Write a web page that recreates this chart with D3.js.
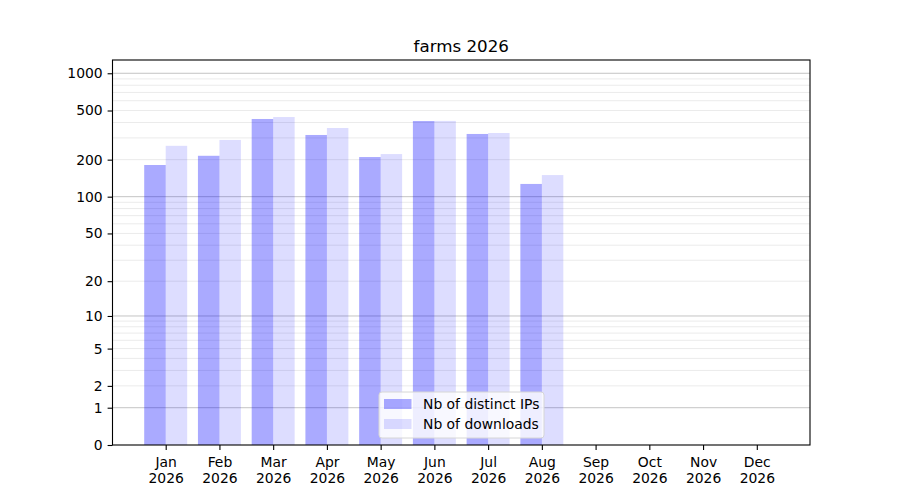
<!DOCTYPE html>
<html>
<head>
<meta charset="utf-8">
<script src="https://cdn.jsdelivr.net/npm/d3@7"></script>
<style>
    body { margin: 0; background: #fff; }
    text { font-family: "DejaVu Sans", sans-serif; fill: #000; }
</style>
</head>
<body>
<div id="chart"></div>
<script>
// data
const months = ["Jan", "Feb", "Mar", "Apr", "May", "Jun", "Jul", "Aug", "Sep", "Oct", "Nov", "Dec"];
const year = "2026";
const distinctIPs = [181, 215, 427, 317, 210, 411, 323, 127, 0, 0, 0, 0];
const downloads = [259, 289, 443, 361, 222, 412, 329, 150, 0, 0, 0, 0];
const yTickValues = [0, 1, 2, 5, 10, 20, 50, 100, 200, 500, 1000];
const majorGrid = [1, 10, 100, 1000];
const minorGrid = [2, 3, 4, 5, 6, 7, 8, 9, 20, 30, 40, 50, 60, 70, 80, 90,
    200, 300, 400, 500, 600, 700, 800, 900];
const seriesNames = ["Nb of distinct IPs", "Nb of downloads"];

const width = 900, height = 500;
const margin = {top: 60, right: 90, bottom: 55, left: 112.5};
const innerW = width - margin.left - margin.right;
const innerH = height - margin.top - margin.bottom;

const svg = d3.select("#chart").append("svg")
    .attr("width", width)
    .attr("height", height);

const g = svg.append("g")
    .attr("transform", "translate(" + margin.left + "," + margin.top + ")");

// scales: x is month index, y is log(1 + x)
const x = d3.scaleLinear()
    .domain([-0.99, 11.99])
    .range([0, innerW]);

const y = d3.scaleSymlog()
    .constant(1)
    .domain([0, 1280])
    .range([innerH, 0]);

const barW = x(0.4) - x(0);

// grid
g.selectAll(".minor")
    .data(minorGrid)
    .enter()
    .append("line")
    .attr("x1", 0).attr("x2", innerW)
    .attr("y1", d => y(d)).attr("y2", d => y(d))
    .style("stroke", "#ebebeb")
    .style("stroke-width", 1);

g.selectAll(".major")
    .data(majorGrid)
    .enter()
    .append("line")
    .attr("x1", 0).attr("x2", innerW)
    .attr("y1", d => y(d)).attr("y2", d => y(d))
    .style("stroke", "#c4c4c4")
    .style("stroke-width", 1);

// bars
const series = [
    {values: distinctIPs, offset: -0.4, opacity: 1 / 3},
    {values: downloads, offset: 0, opacity: 0.135}
];

series.forEach(s => {
    g.selectAll(null)
        .data(s.values)
        .enter()
        .append("rect")
        .attr("x", (d, i) => x(i + s.offset))
        .attr("y", d => y(d))
        .attr("width", barW)
        .attr("height", d => innerH - y(d))
        .style("fill", "blue")
        .style("fill-opacity", s.opacity);
});

// axes
const yAxis = g.append("g")
    .call(d3.axisLeft(y)
        .tickValues(yTickValues)
        .tickFormat(d3.format("d"))
        .tickSizeOuter(0)
        .tickSize(4.9)
        .tickPadding(4.9));

const xAxis = g.append("g")
    .attr("transform", "translate(0," + innerH + ")")
    .call(d3.axisBottom(x)
        .tickValues(d3.range(12))
        .tickFormat(i => months[i])
        .tickSizeOuter(0)
        .tickSize(4.9)
        .tickPadding(7));

[xAxis, yAxis].forEach(a => {
    a.select(".domain").remove();
    a.selectAll("line").style("stroke", "#000").style("stroke-width", 1.1);
    a.selectAll("text").style("font-size", "13.9px");
});

xAxis.selectAll(".tick text")
    .each(function () {
        d3.select(this).append("tspan")
            .attr("x", 0)
            .attr("dy", "1.15em")
            .text(year);
    });

// frame
g.append("rect")
    .attr("width", innerW)
    .attr("height", innerH)
    .style("fill", "none")
    .style("stroke", "#000")
    .style("stroke-width", 1.1);

// title
svg.append("text")
    .attr("x", margin.left + innerW / 2)
    .attr("y", margin.top - 8)
    .attr("text-anchor", "middle")
    .style("font-size", "16.7px")
    .text("farms 2026");

// legend
const legend = svg.append("g")
    .attr("transform", "translate(379,392)");

legend.append("rect")
    .attr("width", 165)
    .attr("height", 46)
    .attr("rx", 3)
    .style("fill", "#fff")
    .style("fill-opacity", 0.8)
    .style("stroke", "#d6d6d6")
    .style("stroke-width", 1);

seriesNames.forEach((name, i) => {
    legend.append("rect")
        .attr("x", 5)
        .attr("y", 7 + i * 20)
        .attr("width", 27.5)
        .attr("height", 10)
        .style("fill", "blue")
        .style("fill-opacity", series[i].opacity);
    legend.append("text")
        .attr("x", 44)
        .attr("y", 17 + i * 20)
        .style("font-size", "13.9px")
        .text(name);
});
</script>
</body>
</html>
